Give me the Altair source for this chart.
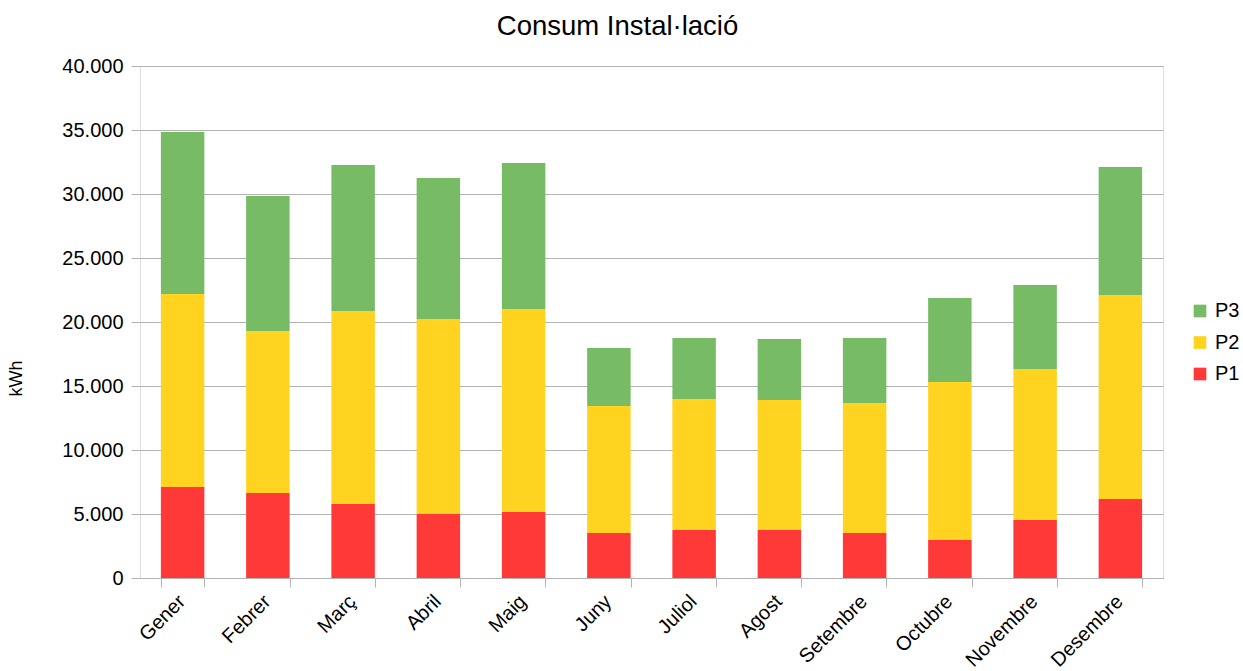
import altair as alt
import pandas as pd

months = ["Gener", "Febrer", "Març", "Abril", "Maig", "Juny", "Juliol",
          "Agost", "Setembre", "Octubre", "Novembre", "Desembre"]
p1 = [7100, 6640, 5780, 5000, 5160, 3520, 3750, 3750, 3520, 2970, 4530, 6170]
p2 = [15090, 12660, 15080, 15230, 15860, 9920, 10230, 10150, 10150, 12340, 11800, 15940]
p3 = [12650, 10540, 11410, 11020, 11400, 4530, 4770, 4770, 5080, 6570, 6560, 10000]
series = ["P1", "P2", "P3"]
colors = {"P1": "#ff3838", "P2": "#ffd320", "P3": "#77bc65"}

rows = []
for i, m in enumerate(months):
    for k, (name, vals) in enumerate(zip(series, [p1, p2, p3])):
        rows.append({"mes": m, "serie": name, "kWh": vals[i], "ord": k})
df = pd.DataFrame(rows)

FONT = "Liberation Sans"
GRID = "#b3b3b3"

chart = alt.Chart(df).mark_bar().encode(
    x=alt.X("mes:N", sort=months, title=None,
            scale=alt.Scale(paddingInner=0.49, paddingOuter=0.245),
            axis=alt.Axis(labelAngle=-45, labelFontSize=20, labelFont=FONT,
                          labelColor="black", tickBand="extent", tickSize=9,
                          tickColor=GRID, domainColor=GRID, labelPadding=4,
                          labelOffset=-8, grid=False)),
    y=alt.Y("kWh:Q", stack="zero", title="kWh",
            scale=alt.Scale(domain=[0, 40000], nice=False),
            axis=alt.Axis(values=list(range(0, 40001, 5000)),
                          labelExpr="replace(format(datum.value, ','), ',', '.')",
                          labelFontSize=20, labelFont=FONT, labelColor="black",
                          tickSize=9, tickColor=GRID, domain=False,
                          gridColor=GRID, labelPadding=8,
                          titleFont=FONT, titleFontSize=18, titleFontWeight="normal",
                          titleColor="black", titlePadding=36, titleY=312)),
    color=alt.Color("serie:N",
                    scale=alt.Scale(domain=["P3", "P2", "P1"],
                                    range=[colors["P3"], colors["P2"], colors["P1"]]),
                    legend=alt.Legend(title=None, orient="none", legendX=1050, legendY=235,
                                      symbolType="square", symbolSize=160,
                                      symbolStrokeWidth=0, labelFontSize=20,
                                      labelFont=FONT, labelColor="black",
                                      rowPadding=11.5, labelOffset=5)),
    order=alt.Order("ord:Q"),
).properties(
    width=1023, height=512,
    title=alt.TitleParams("Consum Instal·lació", fontSize=27.5, font=FONT,
                          fontWeight="normal", color="black", dx=-34, offset=16),
    padding={"left": 140, "top": 66, "right": 80, "bottom": 93},
    autosize=alt.AutoSizeParams(type="none"),
).configure_view(stroke=GRID, strokeWidth=1).configure(background="white")

chart.save("out.html", embed_options={"renderer": "svg", "actions": False})
